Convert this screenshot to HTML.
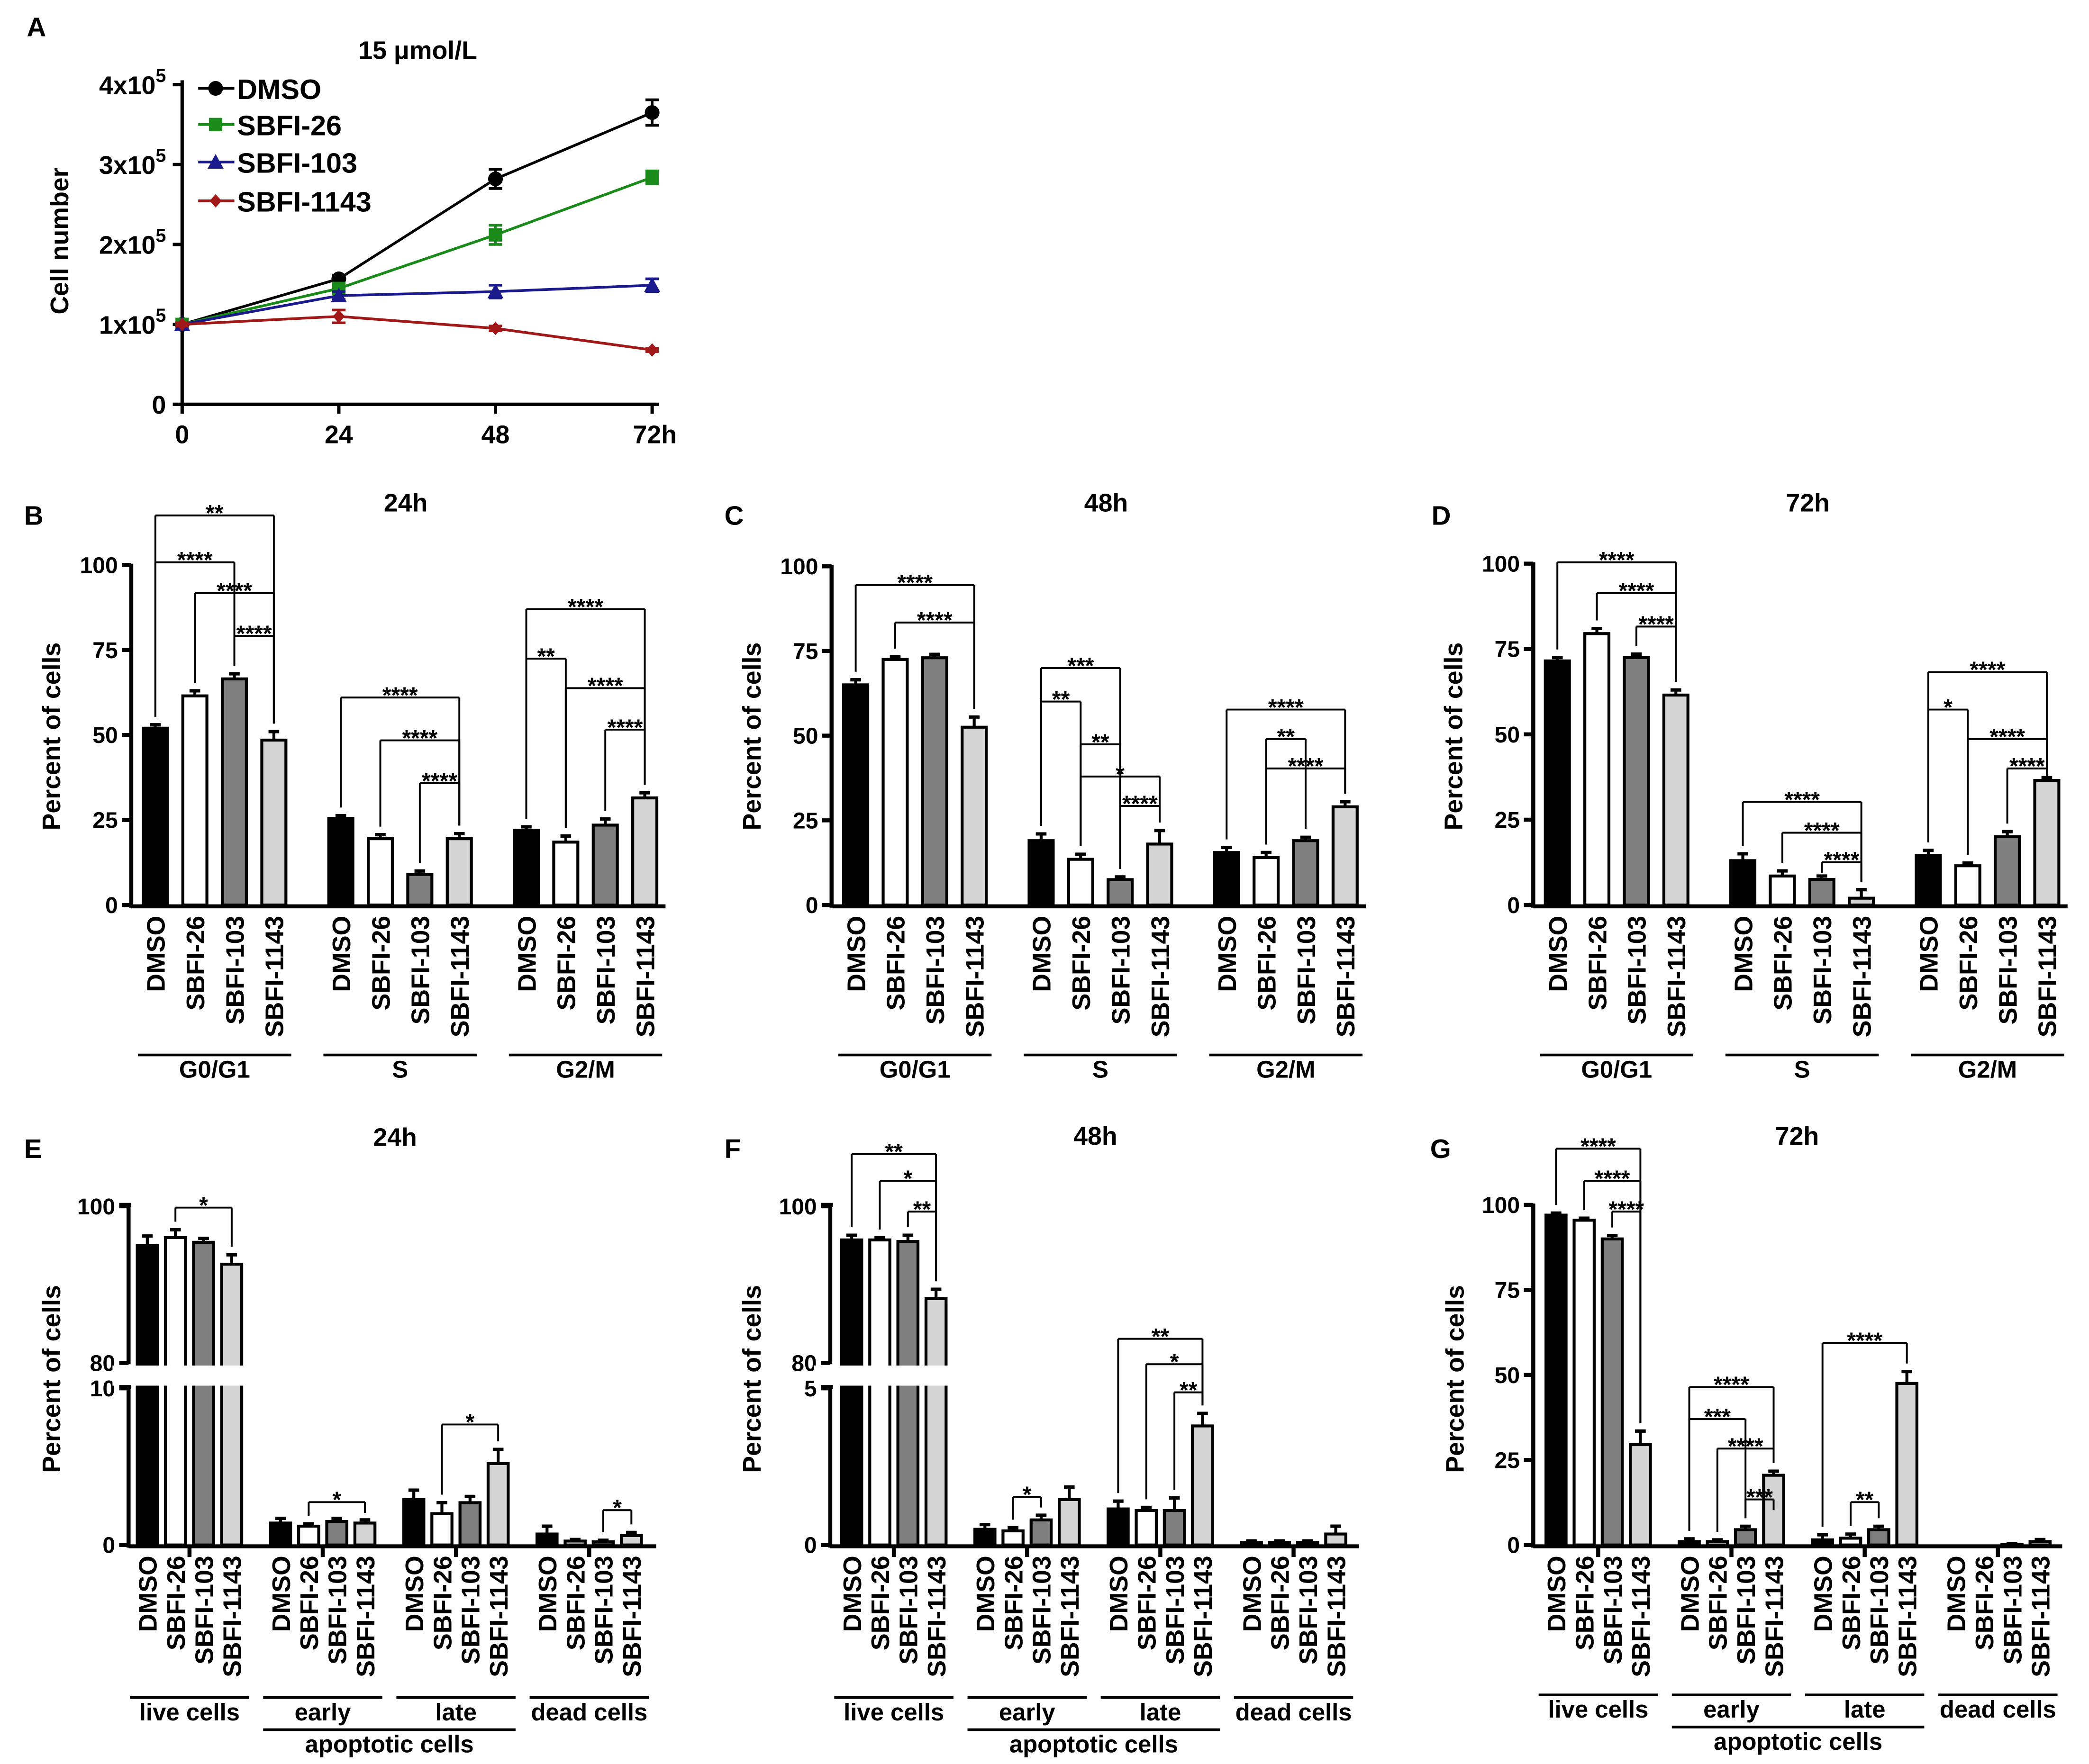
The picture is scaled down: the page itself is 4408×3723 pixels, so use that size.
<!DOCTYPE html>
<html><head><meta charset="utf-8"><style>
html,body{margin:0;padding:0;background:#fff}
svg{display:block}
text{font-family:"Liberation Sans",Arial,sans-serif;font-weight:bold;fill:#000}
</style></head><body>
<svg id="fig" xmlns="http://www.w3.org/2000/svg" width="4408" height="3723" viewBox="0 0 1560 1317.6">
<rect width="1560" height="1318" fill="#fff"/>
</svg>
<script>
// ---------- DATA ----------
const timeCats=[0,24,48,72];
const timeLabels=['0','24','48','72h'];
const growthNames=['DMSO','SBFI-26','SBFI-103','SBFI-1143'];
const growthDMSO=[1.0,1.57,2.82,3.65];
const growthS26=[1.0,1.45,2.12,2.84];
const growthS103=[1.0,1.36,1.41,1.49];
const growthS1143=[1.0,1.1,0.95,0.68];
const growthErrDMSO=[0.02,0.04,0.12,0.16];
const growthErrS26=[0.02,0.04,0.12,0.08];
const growthErrS103=[0.02,0.05,0.08,0.08];
const growthErrS1143=[0.02,0.08,0.03,0.02];
const treatCats=['DMSO','SBFI-26','SBFI-103','SBFI-1143'];
const cycleGroups=['G0/G1','S','G2/M'];
const cycle24=[[52,61.5,66.5,48.5],[25.5,19.5,9,19.5],[22,18.5,23.5,31.5]];
const cycle24err=[[1,1.5,1.5,2.5],[0.8,1.2,1,1.5],[1,1.8,1.8,1.5]];
const cycle48=[[65,72.5,73,52.5],[19,13.5,7.5,18],[15.5,14,19,29]];
const cycle48err=[[1.5,0.8,1,3],[2,1.5,0.8,4],[1.5,1.5,1,1.5]];
const cycle72=[[71.5,79.5,72.5,61.5],[13,8.5,7.5,2],[14.5,11.5,20,36.5]];
const cycle72err=[[1,1.5,1,1.5],[2,1.5,1,2.5],[1.5,0.8,1.5,0.8]];
const apoGroups=['live cells','early','late','dead cells'];
const apo24=[[95,96,95.4,92.6],[1.4,1.2,1.5,1.4],[2.9,2.0,2.7,5.2],[0.7,0.25,0.2,0.6]];
const apo24err=[[1.2,1,0.5,1.2],[0.3,0.15,0.2,0.2],[0.6,0.7,0.4,0.9],[0.5,0.1,0.1,0.2]];
const apo48=[[95.7,95.7,95.5,88.2],[0.5,0.45,0.8,1.45],[1.15,1.1,1.1,3.8],[0.08,0.08,0.08,0.35]];
const apo48err=[[0.6,0.3,0.8,1.2],[0.15,0.1,0.15,0.4],[0.25,0.1,0.4,0.4],[0.05,0.05,0.05,0.25]];
const apo72=[[97,95.5,90,29.5],[1,1,4.5,20.5],[1.5,2,4.5,47.5],[0,0,0.2,1]];
const apo72err=[[0.6,0.6,1,4],[0.8,0.5,1,1.2],[1.5,1.2,1,3.5],[0,0,0.2,0.6]];
// brackets: [group, fromBar, toBar, bracketPixelY, label]
const brB=[[0,0,3,385,'**'],[0,0,2,420,'****'],[0,1,3,443,'****'],[0,2,3,475,'****'],[1,0,3,521,'****'],[1,1,3,553,'****'],[1,2,3,585,'****'],[2,0,3,455,'****'],[2,0,1,492,'**'],[2,1,3,514,'****'],[2,2,3,545,'****']];
const brC=[[0,0,3,437,'****'],[0,1,3,465,'****'],[1,0,2,499,'***'],[1,0,1,524,'**'],[1,1,2,556,'**'],[1,1,3,580,'*'],[1,2,3,602,'****'],[2,0,3,530,'****'],[2,1,2,552,'**'],[2,1,3,574,'****']];
const brD=[[0,0,3,420,'****'],[0,1,3,443,'****'],[0,2,3,468,'****'],[1,0,3,599,'****'],[1,1,3,622,'****'],[1,2,3,644,'****'],[2,0,3,502,'****'],[2,0,1,530,'*'],[2,1,3,552,'****'],[2,2,3,574,'****']];
const brE=[[0,1,3,902,'*'],[1,1,3,1122,'*'],[2,1,3,1064,'*'],[3,2,3,1128,'*']];
const brF=[[0,0,3,862,'**'],[0,1,3,882,'*'],[0,2,3,905,'**'],[1,1,2,1118,'*'],[2,0,3,1000,'**'],[2,1,3,1019,'*'],[2,2,3,1040,'**']];
const brG=[[0,0,3,858,'****'],[0,1,3,882,'****'],[0,2,3,905,'****'],[1,0,3,1036,'****'],[1,0,2,1060,'***'],[1,1,3,1082,'****'],[1,2,3,1120,'***'],[2,0,3,1003,'****'],[2,1,2,1122,'**']];

// ---------- DRAW ----------
const NS='http://www.w3.org/2000/svg';
const svg=document.getElementById('fig');
function el(tag,attrs,parent,txt){const e=document.createElementNS(NS,tag);for(const k in attrs)e.setAttribute(k,attrs[k]);if(txt!==undefined)e.textContent=txt;(parent||svg).appendChild(e);return e;}
function line(x1,y1,x2,y2,w,p){return el('line',{x1,y1,x2,y2,stroke:'#000','stroke-width':w||2},p);}
function txt(x,y,s,size,anchor,p,extra){const t=el('text',Object.assign({x,y,'font-size':size,'text-anchor':anchor||'middle'},extra||{}),p,s);return t;}
const fills=['#000','#fff','#7f7f7f','#d4d4d4'];

// Panel A
(function(){
const g=el('g',{});


txt(20,27,'A',20,'start',g);
txt(312,44,'15 μmol/L',19,'middle',g);
const x0=136,x1=487,y0=302,per=59.7;
const X=t=>x0+(x1-x0)*t/72, Y=v=>y0-v*per;
line(x0,y0,492,y0,2.5,g);line(x0,y0+1,x0,60,2.5,g);
timeCats.forEach((t,i)=>{line(X(t),y0,X(t),y0+7,2.5,g);txt(X(t)+(i==3?2:0),331,timeLabels[i],19,'middle',g);});
const yt=[0,1,2,3,4];
yt.forEach(v=>{line(x0-7,Y(v),x0,Y(v),2.5,g);
 if(v==0)txt(x0-12,Y(v)+7,'0',19,'end',g);
 else{const t=txt(x0-12,Y(v)+7,v+'x10',19,'end',g);el('tspan',{dy:-9,'font-size':14},t,'5');}
});
const yl=txt(0,0,'Cell number',19,'middle',g,{transform:'translate(51,180) rotate(-90)'});

const series=[[growthDMSO,growthErrDMSO,'#000','circle'],[growthS26,growthErrS26,'#1a8a1a','square'],[growthS103,growthErrS103,'#1a1a8c','tri'],[growthS1143,growthErrS1143,'#a01818','diamond']];
function marker(x,y,c,type,p){
 if(type=='circle')el('circle',{cx:x,cy:y,r:5.5,fill:c},p);
 else if(type=='square')el('rect',{x:x-5,y:y-5,width:10,height:10,fill:c},p);
 else if(type=='tri')el('polygon',{points:`${x},${y-6} ${x-6},${y+5} ${x+6},${y+5}`,fill:c},p);
 else el('polygon',{points:`${x},${y-5} ${x-4.5},${y} ${x},${y+5} ${x+4.5},${y}`,fill:c},p);
}
series.forEach((s,si)=>{
 const sg=el('g',{},g);
 
 
 const pts=s[0].map((v,i)=>X(timeCats[i])+','+Y(v)).join(' ');
 el('polyline',{points:pts,fill:'none',stroke:s[2],'stroke-width':2},sg);
 s[0].forEach((v,i)=>{const x=X(timeCats[i]),e=s[1][i];
  line(x,Y(v-e),x,Y(v+e),2,sg).setAttribute('stroke',s[2]);
  line(x-5,Y(v+e),x+5,Y(v+e),2,sg).setAttribute('stroke',s[2]);
  line(x-5,Y(v-e),x+5,Y(v-e),2,sg).setAttribute('stroke',s[2]);
  marker(x,Y(v),s[2],s[3],sg);});
 const ly=[66,93,121,150][si];
 const lg=el('g',{},g);
 
 
 line(148,ly,175,ly,2,lg).setAttribute('stroke',s[2]);
 marker(161,ly,s[2],s[3],lg);
 txt(177,ly+8,growthNames[si],21,'start',lg);
});
})();

// Bar panels
function barPanel(cfg){
 const g=el('g',{});
 
 
 txt(cfg.letterX,cfg.letterY,cfg.letter,20,'start',g);
 txt(cfg.titleX,cfg.titleY,cfg.title,19,'middle',g);
 const bx=(gi,bi)=>cfg.first+gi*cfg.gStep+bi*cfg.bStep;
 const Y=cfg.Y;
 line(cfg.ox,cfg.base+1,cfg.xEnd,cfg.base+1,3,g);
 cfg.axisSegs.forEach(s=>line(cfg.ox,s[0],cfg.ox,s[1],3,g));
 cfg.ticks.forEach((t,i)=>{const y=cfg.tickY[i];line(cfg.ox-7,y,cfg.ox,y,3,g);txt(cfg.ox-10,y+6,t,17,'end',g);});
 const yt=txt(0,0,'Percent of cells',19,'middle',g,{transform:`translate(${cfg.ylabX},${cfg.ylabY}) rotate(-90)`});
 
 cfg.vals.forEach((grp,gi)=>{
  grp.forEach((v,bi)=>{
   const x=bx(gi,bi),top=Y(v),e=cfg.errs[gi][bi],w=cfg.barW;
   const r=el('rect',{x:x-w/2,y:top,width:w,height:Math.max(0,cfg.base-top),fill:fills[bi],stroke:'#000','stroke-width':2.2},g);
   
   
   if(e>0){line(x,top,x,Y(v+e),2.2,g);line(x-4,Y(v+e),x+4,Y(v+e),2.5,g);}
   txt(0,0,treatCats[bi],19,'end',g,{transform:`translate(${x+7},${cfg.base+8}) rotate(-90)`});
  });
 });
 if(cfg.sepTicks){for(let gi=0;gi<cfg.groups.length;gi++){const x=bx(gi,0)+cfg.bStep*1.5;line(x,cfg.base,x,cfg.base+9,3,g);}}
 if(cfg.gap){el('rect',{x:cfg.ox-12,y:cfg.gap[0],width:cfg.xEnd-cfg.ox+14,height:cfg.gap[1]-cfg.gap[0],fill:'#fff'},g);
  cfg.axisSegs.forEach(s=>{line(cfg.ox-7,s[0],cfg.ox+2,s[0],3,g);});}
 cfg.groups.forEach((gn,gi)=>{const a=bx(gi,0)-13,b=bx(gi,3)+13;line(a,cfg.ulY,b,cfg.ulY,2,g);txt((a+b)/2,cfg.ulY+17,gn,18,'middle',g);});
 if(cfg.apo){const a=bx(1,0)-13,b=bx(2,3)+13;line(a,cfg.ulY+24,b,cfg.ulY+24,2,g);txt((a+b)/2,cfg.ulY+41,'apoptotic cells',18,'middle',g);}
 cfg.br.forEach(br=>{const [gi,a,b,y,lab]=br;const xa=bx(gi,a),xb=bx(gi,b);
  const bg=el('g',{},g);
  
  
  const topOf=i=>Y(cfg.vals[gi][i]+cfg.errs[gi][i])-6;
  const da=Math.max(y+8,Math.min(topOf(a),y+200)),db=Math.max(y+8,topOf(b));
  line(xa,y,xb,y,1.4,bg);line(xa,y,xa,da,1.4,bg);line(xb,y,xb,db,1.4,bg);
  txt((xa+xb)/2,y+4,lab,17,'middle',bg);
 });
}
function cyc(name,letter,dx,vals,errs,br,title,y100){
 const base=676,s=(676-y100)/100;
 barPanel({name,letter,letterX:18+dx+(letter=='D'?4:0),letterY:392,title,titleX:303+dx,titleY:382,
  ox:98+dx,first:116+dx,gStep:138.5,bStep:29.5,barW:18,base,xEnd:497+dx,
  Y:v=>base-v*s,axisSegs:[[y100-1,base+2]],ticks:['0','25','50','75','100'],tickY:[0,25,50,75,100].map(v=>base-v*s),
  ylabX:45+dx,ylabY:550,vals,errs,groups:cycleGroups,ulY:788,br,sepTicks:false});
}
cyc('panel-b-cell-cycle-24h','B',0,cycle24,cycle24err,brB,'24h',422);
cyc('panel-c-cell-cycle-48h','C',523,cycle48,cycle48err,brC,'48h',423);
cyc('panel-d-cell-cycle-72h','D',1047,cycle72,cycle72err,brD,'72h',421);

function brokenY(lowScale){return v=>v>=80?1018-(v-80)*5.85:1154-v*lowScale;}
barPanel({name:'panel-e-apoptosis-24h',letter:'E',letterX:18,letterY:865,title:'24h',titleX:295,titleY:856,
 ox:96,first:110,gStep:99.5,bStep:21,barW:15,base:1154,xEnd:490,Y:brokenY(11.7),
 axisSegs:[[900,1019],[1036,1156]],ticks:['0','10','80','100'],tickY:[1154,1037,1018,901],gap:[1020,1035],
 ylabX:45,ylabY:1030,vals:apo24,errs:apo24err,groups:apoGroups,ulY:1268,apo:true,br:brE,sepTicks:true});
barPanel({name:'panel-f-apoptosis-48h',letter:'F',letterX:541,letterY:865,title:'48h',titleX:818,titleY:855,
 ox:620,first:636,gStep:99.5,bStep:21,barW:15,base:1154,xEnd:1015,Y:brokenY(23.4),
 axisSegs:[[900,1019],[1036,1156]],ticks:['0','5','80','100'],tickY:[1154,1037,1018,901],gap:[1020,1035],
 ylabX:568,ylabY:1030,vals:apo48,errs:apo48err,groups:apoGroups,ulY:1268,apo:true,br:brF,sepTicks:true});
barPanel({name:'panel-g-apoptosis-72h',letter:'G',letterX:1068,letterY:865,title:'72h',titleX:1342,titleY:855,
 ox:1145,first:1162,gStep:99.5,bStep:21,barW:15,base:1154,xEnd:1540,Y:v=>1154-v*2.54,
 axisSegs:[[899,1156]],ticks:['0','25','50','75','100'],tickY:[0,25,50,75,100].map(v=>1154-v*2.54),
 ylabX:1093,ylabY:1030,vals:apo72,errs:apo72err,groups:apoGroups,ulY:1266,apo:true,br:brG,sepTicks:true});
</script>
</body></html>
